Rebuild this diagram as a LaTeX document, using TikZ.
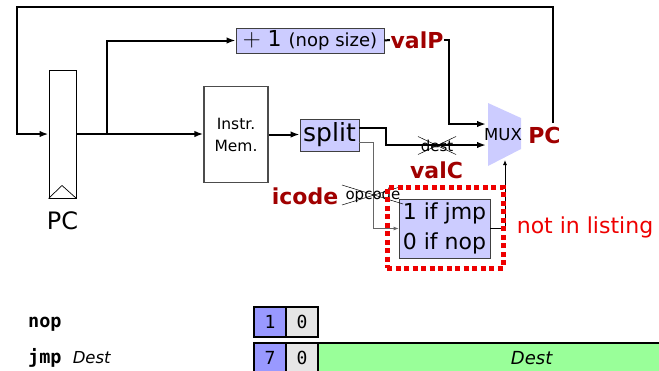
\documentclass[tikz,border=0pt]{standalone}
\usepackage{fontspec}
\setmainfont{DejaVu Sans}
\setmonofont{DejaVu Sans Mono}
\usetikzlibrary{arrows.meta,calc}
\definecolor{boxblue}{HTML}{CCCCFF}
\definecolor{lblred}{HTML}{A00000}
\definecolor{brightred}{HTML}{EE0000}
\definecolor{nibblue}{HTML}{9999FF}
\definecolor{nibgray}{HTML}{E6E6E6}
\definecolor{nibgreen}{HTML}{99FF99}
\newcommand{\myfs}[1]{\fontsize{#1}{#1}\selectfont}
\begin{document}
\begin{tikzpicture}[x=1pt,y=-1pt,
  wire/.style={line width=2pt},
  thinwire/.style={line width=0.8pt},
  arr/.style={-{Latex[length=9pt,width=6.5pt]}},
  arrs/.style={-{Latex[length=5pt,width=4pt]}},
  lbl/.style={text=lblred, font=\bfseries\myfs{22}, inner sep=0.5pt},
  blockbox/.style={draw=black!75, fill=boxblue, line width=0.8pt, inner sep=0},
  nib/.style={draw=black, line width=1.3pt, minimum width=32pt, minimum height=30pt, inner sep=0, font=\ttfamily\myfs{18}},
  crossout/.style={line width=0.5pt}]
\useasboundingbox (0,0) rectangle (659,370);

% PC register
\node[draw=black, line width=1pt, fill=white, minimum width=27pt, minimum height=128pt, inner sep=0] (pcreg) at (62.5,134) {};
\draw[line width=0.7pt] (pcreg.south west) -- ++(13.5,-13) -- (pcreg.south east);
\node[font=\myfs{24}, inner sep=0] (pclbl) at (62.5,221) {PC};

% boxes
\node[blockbox, minimum width=148pt, minimum height=25pt] (plus) at (310,40.5) {\myfs{27}$+$\myfs{22} 1 \myfs{18}(nop size)};
\node[lbl] (valP) at (417,40) {valP};
\node[draw=black!70, line width=1.2pt, fill=white, minimum width=64pt, minimum height=96pt, align=center, font=\fontsize{15.5}{22}\selectfont, inner sep=0] (imem) at (236,134.5) {Instr.\\Mem.};
\node[blockbox, minimum width=59pt, minimum height=32pt, font=\myfs{25}] (split) at (329.5,135) {split};
\node[blockbox, minimum width=91pt, minimum height=59pt, align=center, font=\fontsize{22}{30}\selectfont] (cond) at (444.5,228.5) {1 if jmp\\0 if nop};

% MUX
\fill[boxblue] (488,103) -- (521,118) -- (521,149) -- (488,166) -- cycle;
\node[font=\myfs{16.5}, inner sep=0] (muxlbl) at (503,135) {MUX};
\node[lbl, inner sep=0] (pcout) at (544.5,135.5) {PC};

\coordinate (muxA) at (486,124);
\coordinate (muxB) at (486,145);
\coordinate (muxC) at (505,160);
\coordinate (pctop) at (552.5,123);
\coordinate (loopTR) at (552.5,7);
\coordinate (loopTL) at (17,7);
\coordinate (loopBL) at (17,134);
\coordinate (jn) at (107,134);
\coordinate (vpc) at (449,40);
\coordinate (d1) at (386,128);
\coordinate (d2) at (373,142);
\coordinate (c1) at (505,228.5);

% wires
\draw[wire,arr] (pctop) -- (loopTR) -- (loopTL) -- (loopBL) -- (pcreg.west);
\draw[wire] (pcreg.east) -- (jn);
\draw[wire,arr] (jn) -- (imem.west |- jn);
\draw[wire,arr] (jn) |- (plus.west);
\draw[wire,arr] (imem.east) -- (imem.east -| split.west);
\draw[wire] (plus.east) -- (valP.west);
\draw[wire,arr] (valP.east) -- (vpc) |- (muxA);
\draw[wire,arr] (split.east |- d1) -- (d1) |- (muxB);
\draw[thinwire,black!60,arrs] (split.east |- d2) -- (d2) |- (cond.west);
\draw[thinwire,arrs] (cond.east) -- (c1) -- (muxC);

% crossed-out labels
\node[font=\myfs{15}, inner sep=0] (dest) at (437,145.5) {dest};
\draw[crossout] ($(dest)+(-19,-9)$) -- ($(dest)+(19,9)$);
\draw[crossout] ($(dest)+(-19,9)$) -- ($(dest)+(19,-9)$);
\node[lbl] (valC) at (436.5,170) {valC};
\node[lbl] (icode) at (305,196.5) {icode};
\node[font=\myfs{15}, inner sep=0] (opc) at (373,195) {opcode};
\draw[crossout] ($(opc)+(-31,-10)$) -- ($(opc)+(30,9)$);
\draw[crossout] ($(opc)+(-31,10)$) -- ($(opc)+(30,-9)$);

% highlight
\node[draw=brightred, line width=5pt, dash pattern=on 5pt off 3.5pt, minimum width=116pt, minimum height=81pt, inner sep=0] (hl) at (445,227.5) {};
\node[text=brightred, font=\myfs{22}, inner sep=0] (nil) at (585,227) {not in listing};

% encodings
\node[anchor=base west, font=\ttfamily\bfseries\myfs{18.5}, inner sep=0] (nop) at (28,327) {nop};
\node[anchor=base west, inner sep=0] (jmp) at (28,363) {\ttfamily\bfseries\myfs{18.5}jmp \normalfont\itshape\myfs{16.5}Dest};
\node[nib, fill=nibblue] (n1) at (270,322) {1};
\node[nib, fill=nibgray] (n0) at (302,322) {0};
\node[nib, fill=nibblue] (j7) at (270,358) {7};
\node[nib, fill=nibgray] (j0) at (302,358) {0};
\node[nib, fill=nibgreen, minimum width=426pt, anchor=west, font=\itshape\myfs{18}] (jd) at (318,358) {Dest};
\end{tikzpicture}
\end{document}
